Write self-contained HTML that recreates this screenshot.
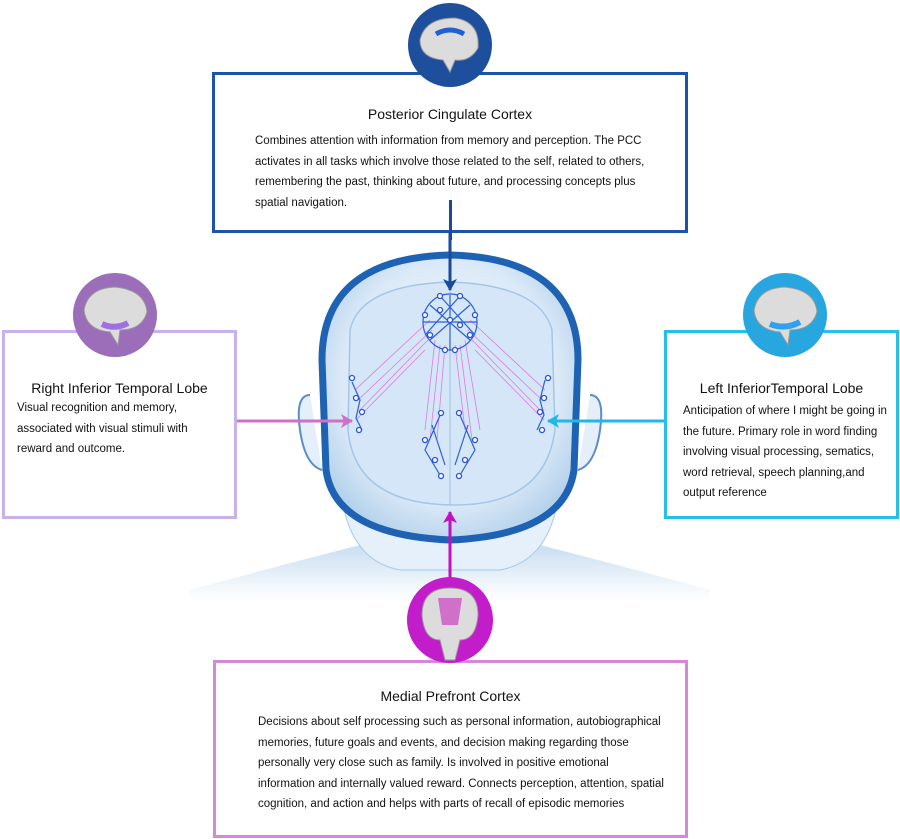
<!DOCTYPE html>
<html><head><meta charset="utf-8"><style>
body{margin:0;width:900px;height:839px;background:#fff;position:relative;overflow:hidden;font-family:"Liberation Sans",Arial,sans-serif;color:#111}
.box{position:absolute;background:#fff;box-sizing:border-box;border-style:solid;border-width:3px}
.t{position:absolute;font-size:14px;white-space:nowrap}
.p{position:absolute;font-size:11.5px;line-height:20.5px;white-space:nowrap}
</style></head><body>
<svg width="900" height="839" style="position:absolute;left:0;top:0">
<defs>
<radialGradient id="hg" cx="50%" cy="45%" r="60%"><stop offset="0" stop-color="#f4f9ff"/><stop offset="0.7" stop-color="#dceaf8"/><stop offset="1" stop-color="#b0cfea"/></radialGradient>
<linearGradient id="sg" x1="0" y1="0" x2="0" y2="1"><stop offset="0" stop-color="#c4dbf0"/><stop offset="1" stop-color="#ffffff"/></linearGradient>
<marker id="ab" markerUnits="userSpaceOnUse" markerWidth="12" markerHeight="14" refX="11" refY="7" orient="auto"><path d="M0,0L12,7L0,14L3,7z" fill="#1a4a9a"/></marker>
<marker id="ap" markerUnits="userSpaceOnUse" markerWidth="12" markerHeight="14" refX="11" refY="7" orient="auto"><path d="M0,0L12,7L0,14L3,7z" fill="#d070c8"/></marker>
<marker id="ac" markerUnits="userSpaceOnUse" markerWidth="12" markerHeight="14" refX="11" refY="7" orient="auto"><path d="M0,0L12,7L0,14L3,7z" fill="#20b8e8"/></marker>
<marker id="am" markerUnits="userSpaceOnUse" markerWidth="12" markerHeight="14" refX="11" refY="7" orient="auto"><path d="M0,0L12,7L0,14L3,7z" fill="#c010c0"/></marker>
</defs>
<path d="M190,590 Q300,560 380,540 L520,540 Q600,560 710,590 L710,600 L190,600 Z" fill="url(#sg)"/>
<path d="M340,480 Q345,560 400,570 L500,570 Q555,560 560,480 Z" fill="#e6f0fa" stroke="#a8c8e8"/>
<path d="M310,395 Q295,395 300,430 Q305,465 322,470" fill="#e4eff9" stroke="#5a8ccc" stroke-width="2"/>
<path d="M590,395 Q605,395 600,430 Q595,465 578,470" fill="#e4eff9" stroke="#5a8ccc" stroke-width="2"/>
<path d="M322,360 Q322,258 450,255 Q578,258 578,360 L574,470 Q565,535 450,540 Q335,535 326,470 Z" fill="url(#hg)" stroke="#1e62b4" stroke-width="7"/>
<path d="M350,330 Q360,285 450,282 Q540,285 552,330 L555,430 Q545,505 455,505 Q355,505 348,430 Z" fill="#d4e6f7" stroke="#a4c6e8" stroke-width="1.5"/>
<line x1="450" y1="290" x2="450" y2="505" stroke="#9cc2e6"/>
<g stroke="#e060e0" stroke-width="0.8" opacity="0.8">
<path d="M430,320L355,390M432,330L358,400M428,340L360,410M425,350L356,420M470,320L545,390M468,330L542,400M472,340L540,410M475,350L544,420M435,340L425,430M440,345L430,440M445,345L437,440M455,345L465,430M460,345L472,440M465,340L480,430"/>
</g>
<g fill="none" stroke="#2a60d8" stroke-width="1.2">
<ellipse cx="450" cy="322" rx="27" ry="28"/><path d="M430,305L470,340M470,305L430,340M450,295L450,350M423,322L477,322M440,296L475,335M460,296L425,335"/>
<path d="M352,382L360,400L356,418L362,430M545,380L540,400L544,415L537,430M441,413L425,450L440,475M432,425L445,465M459,413L475,450L460,475M468,425L455,465"/>
</g>
<g fill="#fff" stroke="#2a50e0" stroke-width="1.3">
<circle cx="440" cy="296" r="2.5"/><circle cx="460" cy="296" r="2.5"/><circle cx="425" cy="315" r="2.5"/><circle cx="475" cy="315" r="2.5"/><circle cx="430" cy="335" r="2.5"/><circle cx="470" cy="335" r="2.5"/><circle cx="445" cy="350" r="2.5"/><circle cx="455" cy="350" r="2.5"/><circle cx="450" cy="320" r="2.5"/><circle cx="440" cy="310" r="2.5"/><circle cx="460" cy="325" r="2.5"/>
<circle cx="352" cy="378" r="2.5"/><circle cx="356" cy="398" r="2.5"/><circle cx="362" cy="412" r="2.5"/><circle cx="359" cy="430" r="2.5"/>
<circle cx="548" cy="378" r="2.5"/><circle cx="544" cy="398" r="2.5"/><circle cx="540" cy="412" r="2.5"/><circle cx="542" cy="430" r="2.5"/>
<circle cx="441" cy="413" r="2.5"/><circle cx="425" cy="440" r="2.5"/><circle cx="435" cy="460" r="2.5"/><circle cx="441" cy="476" r="2.5"/>
<circle cx="459" cy="413" r="2.5"/><circle cx="475" cy="440" r="2.5"/><circle cx="465" cy="460" r="2.5"/><circle cx="459" cy="476" r="2.5"/>
</g>
<line x1="450" y1="232" x2="450" y2="290" stroke="#1a4a9a" stroke-width="3" marker-end="url(#ab)"/>
<line x1="222" y1="421" x2="352" y2="421" stroke="#d070c8" stroke-width="3" marker-end="url(#ap)"/>
<line x1="665" y1="421" x2="548" y2="421" stroke="#20b8e8" stroke-width="3" marker-end="url(#ac)"/>
<line x1="450" y1="578" x2="450" y2="512" stroke="#c010c0" stroke-width="3" marker-end="url(#am)"/>
</svg>
<div class="box" style="left:212px;top:72px;width:476px;height:161px;border-color:#1a55a8"></div>
<div class="box" style="left:2px;top:330px;width:235px;height:189px;border-color:#c9b2ec"></div>
<div class="box" style="left:664px;top:330px;width:235px;height:189px;border-color:#22c0ea"></div>
<div class="box" style="left:213px;top:660px;width:475px;height:178px;border-color:#d787d8"></div>
<div class="box" style="left:449px;top:200px;width:3px;height:40px;border:0;background:#1a4a9a"></div>
<svg width="900" height="839" style="position:absolute;left:0;top:0">
<circle cx="450" cy="45" r="42" fill="#1d4f9d"/><path d="M420,40Q425,18 455,18Q480,22 478,48Q470,62 455,60L450,72L443,60Q420,58 420,40Z" fill="#dcdcdc" stroke="#999"/><path d="M436,34Q450,26 464,34" stroke="#2060d0" stroke-width="5" fill="none"/>
<circle cx="115" cy="315" r="42" fill="#9c6db9"/><path d="M84,310Q88,288 115,287Q145,290 147,312Q142,330 120,330L118,345L110,332Q86,330 84,310Z" fill="#dcdcdc" stroke="#999"/><path d="M102,324Q115,330 128,323" stroke="#a070e0" stroke-width="6" fill="none"/>
<circle cx="785" cy="315" r="42" fill="#27a6df"/><path d="M754,310Q758,288 785,287Q815,290 817,312Q812,330 790,330L788,345L780,332Q756,330 754,310Z" fill="#dcdcdc" stroke="#999"/><path d="M770,324Q785,330 800,322" stroke="#30a0f0" stroke-width="6" fill="none"/>
<circle cx="450" cy="620" r="43" fill="#c21ccb"/><path d="M422,615Q422,588 450,588Q478,588 478,615Q476,640 460,640L455,660L445,660L440,640Q424,640 422,615Z" fill="#dcdcdc" stroke="#999"/><path d="M438,598L462,598L458,625L442,625Z" fill="#d070c8"/>
</svg>
<div class="t" style="left:212px;width:476px;text-align:center;top:106px">Posterior Cingulate Cortex</div>
<div class="p" style="left:255px;top:131px">Combines attention with information from memory and perception. The PCC<br>activates in all tasks which involve those related to the self, related to others,<br>remembering the past, thinking about future, and processing concepts plus<br>spatial navigation.</div>
<div class="t" style="left:2px;width:235px;text-align:center;top:380px">Right Inferior Temporal Lobe</div>
<div class="p" style="left:17px;top:398px">Visual recognition and memory,<br>associated with visual stimuli with<br>reward and outcome.</div>
<div class="t" style="left:664px;width:235px;text-align:center;top:380px">Left InferiorTemporal Lobe</div>
<div class="p" style="left:683px;top:401px">Anticipation of where I might be going in<br>the future. Primary role in word finding<br>involving visual processing, sematics,<br>word retrieval, speech planning,and<br>output reference</div>
<div class="t" style="left:213px;width:475px;text-align:center;top:688px">Medial Prefront Cortex</div>
<div class="p" style="left:258px;top:712px">Decisions about self processing such as personal information, autobiographical<br>memories, future goals and events, and decision making regarding those<br>personally very close such as family. Is involved in positive emotional<br>information and internally valued reward. Connects perception, attention, spatial<br>cognition, and action and helps with parts of recall of episodic memories</div>
</body></html>
